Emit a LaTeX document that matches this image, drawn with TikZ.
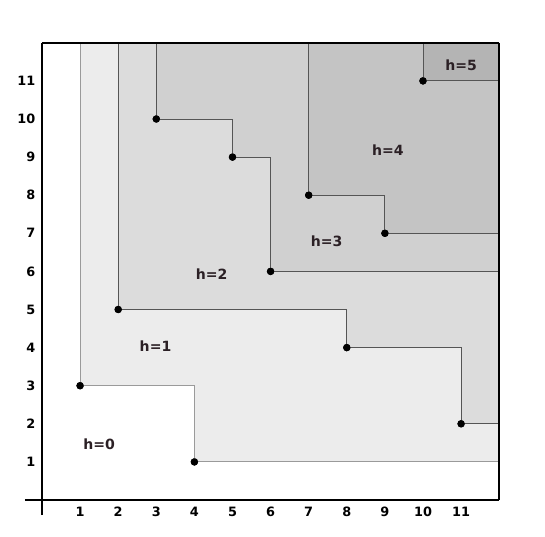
\documentclass[tikz,border=0pt]{standalone}
\usepackage{fontspec}
\setmainfont{DejaVu Sans}
\begin{document}
\begin{tikzpicture}[x=1cm,y=1cm,
  dot/.style={circle,fill=black,inner sep=0pt,minimum size=5.5pt},
  lab/.style={font=\fontsize{10.5}{12}\selectfont\bfseries,text=labc},
  tick/.style={font=\fontsize{9.6}{11}\selectfont\bfseries,text=black},
  bnd/.style={draw=bc,line width=0.7pt}]
\definecolor{labc}{HTML}{2B2025}
\definecolor{cA}{HTML}{ECECEC}
\definecolor{cB}{HTML}{DCDCDC}
\definecolor{cC}{HTML}{D0D0D0}
\definecolor{cD}{HTML}{C4C4C4}
\definecolor{cE}{HTML}{B4B4B4}
\definecolor{bc}{HTML}{555555}
\definecolor{bl}{HTML}{9A9A9A}
\useasboundingbox (-1.102,-0.945) rectangle (13.202,13.123);
% regions
\fill[cA] (1,12) -- (1,3) -- (4,3) -- (4,1) -- (12,1) -- (12,12) -- cycle;
\fill[cB] (2,12) -- (2,5) -- (8,5) -- (8,4) -- (11,4) -- (11,2) -- (12,2) -- (12,12) -- cycle;
\fill[cC] (3,12) -- (3,10) -- (5,10) -- (5,9) -- (6,9) -- (6,6) -- (12,6) -- (12,12) -- cycle;
\fill[cD] (7,12) -- (7,8) -- (9,8) -- (9,7) -- (12,7) -- (12,12) -- cycle;
\fill[cE] (10,12) -- (10,11) -- (12,11) -- (12,12) -- cycle;
% points
\node[dot] (p13) at (1,3) {};
\node[dot] (p41) at (4,1) {};
\node[dot] (p25) at (2,5) {};
\node[dot] (p84) at (8,4) {};
\node[dot] (p112) at (11,2) {};
\node[dot] (p310) at (3,10) {};
\node[dot] (p59) at (5,9) {};
\node[dot] (p66) at (6,6) {};
\node[dot] (p78) at (7,8) {};
\node[dot] (p97) at (9,7) {};
\node[dot] (p1011) at (10,11) {};
\coordinate (t1) at (1,12); \coordinate (e1) at (12,1);
\coordinate (t2) at (2,12); \coordinate (e2) at (12,2);
\coordinate (t3) at (3,12); \coordinate (e3) at (12,6);
\coordinate (t4) at (7,12); \coordinate (e4) at (12,7);
\coordinate (t5) at (10,12); \coordinate (e5) at (12,11);
% boundaries
\draw[bnd,draw=bl] (t1) -- (p13.center) -| (p41.center) -- (e1);
\draw[bnd] (t2) -- (p25.center) -| (p84.center) -| (p112.center) -- (e2);
\draw[bnd] (t3) -- (p310.center) -| (p59.center) -| (p66.center) -- (e3);
\draw[bnd] (t4) -- (p78.center) -| (p97.center) -- (e4);
\draw[bnd] (t5) -- (p1011.center) -- (e5);
% redraw dots on top
\foreach \p in {p13,p41,p25,p84,p112,p310,p59,p66,p78,p97,p1011}
  \fill[black] (\p) circle (2.75pt);
% frame and axes
\coordinate (o) at (0,0);
\coordinate (tl) at (0,12);
\coordinate (tr) at (12,12);
\coordinate (br) at (12,0);
\draw[black,line width=1.1pt] (tl) -- (tr);
\draw[black,line width=1.5pt] (tr) -- (br);
\draw[black,line width=1.8pt] (-0.45,0) -- (br);
\draw[black,line width=1.8pt] (0,-0.4) -- (tl);
% tick labels
\foreach \i in {1,...,11} {
  \node[tick] (xl\i) at (\i,-0.3) {\i};
  \node[tick,anchor=east] (yl\i) at (-0.05,\i) {\i};
}
% region labels
\node[lab] (h0) at (1.5,1.45) {h=0};
\node[lab] (h1) at (2.98,4.05) {h=1};
\node[lab] (h2) at (4.45,5.93) {h=2};
\node[lab] (h3) at (7.47,6.8) {h=3};
\node[lab] (h4) at (9.08,9.17) {h=4};
\node[lab] (h5) at (11.0,11.4) {h=5};
\end{tikzpicture}
\end{document}
